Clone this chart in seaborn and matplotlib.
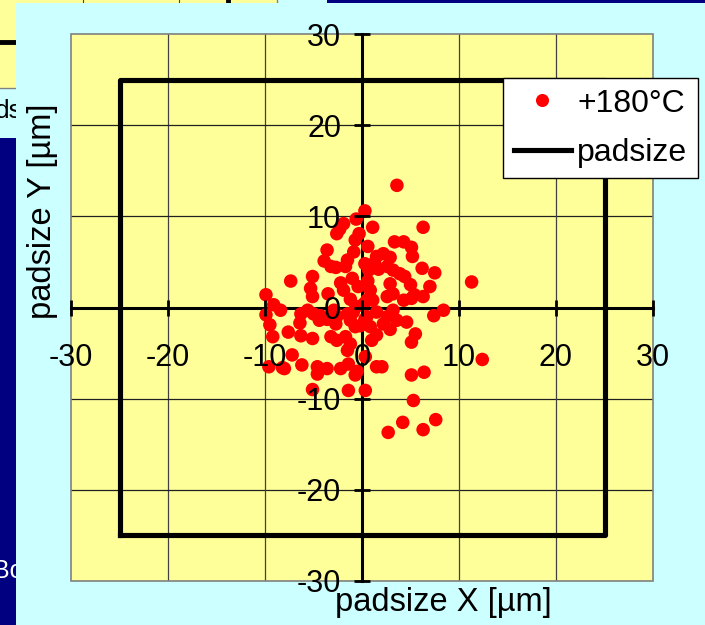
import matplotlib
matplotlib.use("Agg")
import matplotlib.pyplot as plt
import seaborn as sns
from matplotlib.patches import Rectangle
from matplotlib.lines import Line2D

W, H = 705, 625
plt.rcParams['font.family'] = ['Liberation Sans', 'DejaVu Sans']
plt.rcParams['axes.unicode_minus'] = False

# ---- data (µm) ----
x_um = [3.6, 0.3, -0.6, -1.9, -2.3, -2.6, 1.1, 6.3, -0.3, -0.7, 0.6, 3.35, 4.3, 5.1, 5.2,
        -3.6, -0.85, -1.5, -1.7, -3.9, -3.2, -2.7, 0.3, 0.7, 1.5, 2.2, 2.9, 2.6, 3.2, 3.9,
        4.4, 5.0, 6.2, 7.5, -7.35, -5.1, -5.3, -5.1, -3.5, -2.2, -1.9, 1.7, 2.9, 0.85, 0.5,
        0.2, 2.6, 3.2, 4.3, 5.1, 6.3, 7.0, 11.3, -9.9, 1.3, 5.4, 0.6, 1.1, -1.0, -0.4,
        -1.2, -0.6,
        -9.1, -8.4, -9.9, -9.5, -9.2, -6.3, -5.6, -5.0, -4.4, -7.6, -6.3, -5.1, -2.9, -2.6,
        -2.7, -1.5, -1.2, -0.7, -3.2, -2.6, -1.7, -1.2, -1.5, 0.5, 0.85, 1.5, 2.2, 1.5,
        2.6, 3.2, 3.6, 4.6, 5.5, 5.1, 7.4, 8.4, -7.2, -8.0, -9.6, -6.2, -4.6, -3.6, -4.6,
        -2.2, -1.4, -0.7, 0.34, 1.5, 2.05, 5.1, 6.4, 12.4, -5.1, -1.4, 0.34, 5.3, 2.7,
        4.2, 6.3, 7.6, -6.4, -4.3, -3.6, -0.2, 0.3, -8.2, -0.5, 1.0, 2.9, -0.9]
y_um = [13.4, 10.6, 9.7, 9.2, 8.6, 8.1, 8.8, 8.8, 8.1, 7.4, 6.7, 7.2, 7.2, 6.6, 5.6,
        6.3, 6.1, 5.2, 4.5, 5.1, 4.5, 4.4, 4.8, 4.1, 5.6, 5.9, 5.5, 4.5, 4.1, 3.7,
        3.4, 2.5, 4.3, 3.8, 2.9, 3.4, 2.1, 1.2, 1.5, 2.7, 1.9, 4.2, 2.6, 1.9, 0.8,
        0.4, 1.2, 1.5, 0.8, 1.0, 1.2, 2.3, 2.8, 1.4, 4.9, 1.4, 2.9, 0.8, 3.2, 2.3,
        0.9, 0.1,
        0.3, -0.3, -0.8, -1.9, -3.2, -0.7, -0.3, -0.7, -1.4, -2.7, -3.1, -3.4, -0.3, -1.0,
        -1.8, -0.7, -1.4, -2.1, -3.2, -3.6, -3.2, -4.0, -4.7, -1.0, -2.1, -3.0, -1.8, -0.5,
        -1.0, -0.3, -1.4, -1.6, -2.9, -3.8, -0.9, -0.3, -5.2, -6.7, -6.5, -6.3, -6.5, -6.7, -7.3,
        -6.7, -6.2, -7.4, -5.4, -6.5, -6.5, -7.4, -7.1, -5.7, -9.0, -9.1, -9.1, -10.2, -13.7,
        -12.6, -13.4, -12.3, -1.7, -0.9, -1.3, -2.0, -1.3, -6.6, -7.0, -3.6, -2.4, -0.5]
pad_x = [-25, -25, 25, 25, -25]
pad_y = [-25, 25, 25, -25, -25]
ticks = [-30, -20, -10, 0, 10, 20, 30]
tick_labels = ['-30', '-20', '-10', '0', '10', '20', '30']
series_label = '+180°C'
pad_label = 'padsize'
x_title = 'padsize X [µm]'
y_title = 'padsize Y [µm]'

NAVY = '#000080'
CYAN = '#CCFFFF'
YEL = '#FFFF99'
TICK_FS = 22
LABEL_FS = 23.5
LEG_FS = 23

fig = plt.figure(figsize=(W / 100, H / 100), dpi=100, facecolor=NAVY)


def rect(x0, y0, x1, y1, fc, z, ec='none', lw=0):
    fig.add_artist(Rectangle((x0 / W, 1 - y1 / H), (x1 - x0) / W, (y1 - y0) / H,
                             transform=fig.transFigure, facecolor=fc, edgecolor=ec,
                             linewidth=lw, zorder=z))


def fline(xs, ys, color, lw, z):
    fig.add_artist(Line2D([x / W for x in xs], [1 - y / H for y in ys],
                          transform=fig.transFigure, color=color, lw=lw, zorder=z))


# background pieces of the slide behind
rect(0, 0, 327, 138, CYAN, -6)
rect(-5, -5, 277, 88, YEL, -5, ec='#808080', lw=1)
for gx in (83, 179):
    fline([gx, gx], [0, 88], '#404040', 0.8, -4.5)
fline([228, 228], [0, 88], 'black', 3.5, -4.5)
fline([0, 30], [42, 42], 'black', 3.5, -4.5)
fig.text(-5 / W, 1 - 111 / H, 'ds', fontsize=19, ha='left', va='center', zorder=-4)
fig.text(-7 / W, 1 - 571 / H, 'Bo', fontsize=18, ha='left', va='center',
         color='white', zorder=-4)
# main panel
rect(16, 3, 710, 630, CYAN, -1)

ax = fig.add_axes([71 / W, 1 - 581 / H, 582 / W, 547 / H])
ax.set_facecolor(YEL)
ax.set_xlim(-30, 30)
ax.set_ylim(-30, 30)

for g in (-20, -10, 10, 20):
    ax.axvline(g, color='#404040', lw=0.9, zorder=0.5)
    ax.axhline(g, color='#202020', lw=0.9, zorder=0.5)

sns.scatterplot(x=x_um, y=y_um, color='#FF0000', s=95, linewidth=0, edgecolor='none',
                zorder=3, ax=ax, legend=False)
sns.lineplot(x=pad_x, y=pad_y, sort=False, estimator=None, color='black', lw=3.7,
             zorder=2, ax=ax, legend=False)

for s in ('top', 'right'):
    ax.spines[s].set_visible(False)
for s in ('left', 'bottom'):
    ax.spines[s].set_position(('data', 0))
    ax.spines[s].set_linewidth(2.2)
    ax.spines[s].set_color('black')
    ax.spines[s].set_zorder(2.5)
ax.add_patch(Rectangle((0, 0), 1, 1, transform=ax.transAxes, fill=False,
                       edgecolor='#808080', lw=1.2, zorder=1, clip_on=False))

ax.set_xticks(ticks)
ax.set_xticklabels(tick_labels)
ax.set_yticks(ticks)
ax.set_yticklabels(tick_labels)
ax.tick_params(axis='both', direction='inout', length=12, width=2, labelsize=TICK_FS,
               top=False, right=False, color='black')
ax.tick_params(axis='x', pad=19.5)
ax.tick_params(axis='y', pad=9)
ax.xaxis.set_zorder(4)
ax.yaxis.set_zorder(4)
ax.set_xlabel('')
ax.set_ylabel('')

fig.text(443 / W, 1 - 603 / H, x_title, fontsize=LABEL_FS, ha='center', va='center')
fig.text(43 / W, 1 - 211 / H, y_title, fontsize=LABEL_FS, ha='center', va='center',
         rotation=90)

handles = [Line2D([], [], marker='o', ls='none', color='#FF0000', markersize=9.4,
                  markeredgewidth=0),
           Line2D([], [], color='black', lw=3.7)]
leg = ax.legend(handles, [series_label, pad_label], loc='upper left',
                bbox_to_anchor=(503 / W, 1 - 78 / H), bbox_transform=fig.transFigure,
                borderaxespad=0, fontsize=LEG_FS, frameon=True, fancybox=False,
                framealpha=1, facecolor='white', edgecolor='black',
                handlelength=1.8, handletextpad=0.2, borderpad=0.33, labelspacing=0.6)
leg.get_frame().set_linewidth(1)
leg.set_zorder(10)

fig.savefig('out.png', dpi=100, facecolor=NAVY)
